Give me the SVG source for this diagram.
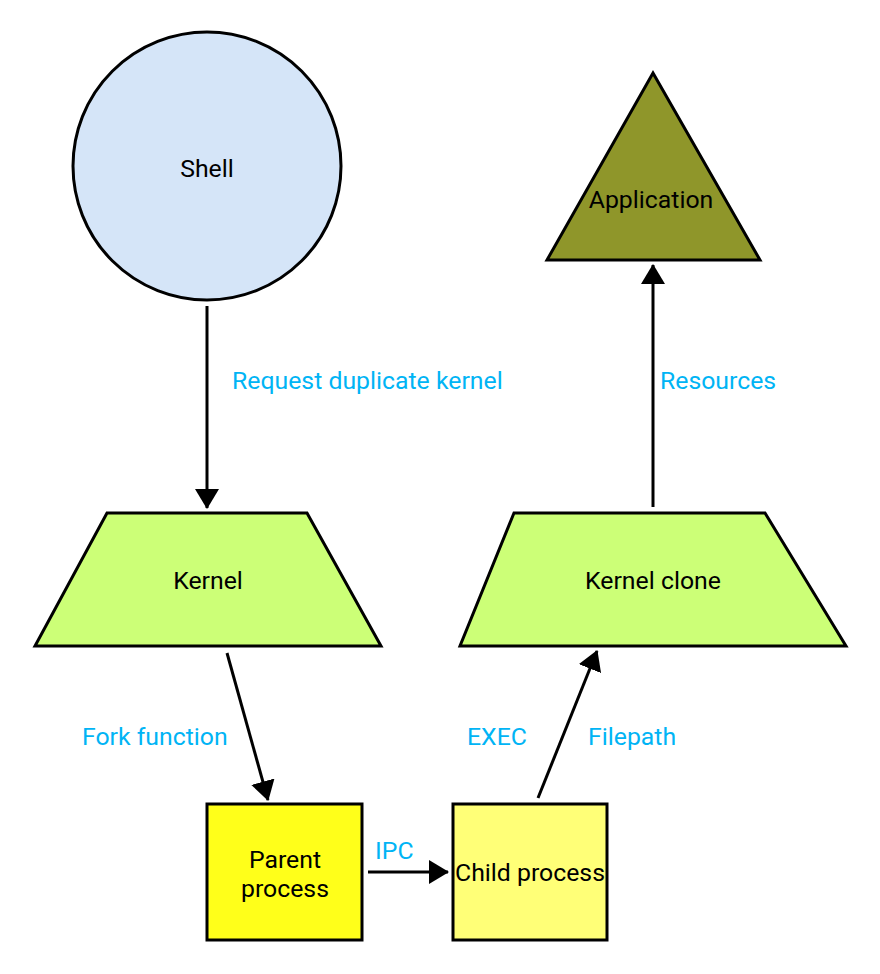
<svg xmlns="http://www.w3.org/2000/svg" width="880" height="974" viewBox="0 0 880 974">
<defs>
<style>
.shape{stroke:#000;stroke-width:3;stroke-linejoin:miter}
.t{font-family:Roboto,"Liberation Sans",sans-serif;font-size:24.8px;fill:#000;text-anchor:middle}
.lbl{font-family:Roboto,"Liberation Sans",sans-serif;font-size:24.8px;fill:#00b4f5}
.edge{stroke:#000;stroke-width:3;fill:none}
</style>
<marker id="arr" viewBox="0 0 20 24" refX="19" refY="12" markerWidth="20" markerHeight="24" markerUnits="userSpaceOnUse" orient="auto">
<path d="M0,0 L20,12 L0,24 z" fill="#000"/>
</marker>
</defs>
<rect width="880" height="974" fill="#fff"/>
<g id="shell">
<circle class="shape" cx="207" cy="166" r="134" fill="#d5e5f8"/>
<text class="t" x="207" y="177">Shell</text>
</g>
<g id="application">
<polygon class="shape" points="653,73 760,260 547,260" fill="#8f962a"/>
<text class="t" x="651" y="208">Application</text>
</g>
<g id="kernel">
<polygon class="shape" points="107,513 307,513 381,646 35,646" fill="#ccff77"/>
<text class="t" x="208" y="589">Kernel</text>
</g>
<g id="kernel-clone">
<polygon class="shape" points="514,513 765,513 846,646 460,646" fill="#ccff77"/>
<text class="t" x="653" y="589">Kernel clone</text>
</g>
<g id="parent-process">
<rect class="shape" x="207" y="804" width="155" height="136" fill="#ffff1a"/>
<text class="t" x="285" y="868">Parent</text>
<text class="t" x="285" y="897">process</text>
</g>
<g id="child-process">
<rect class="shape" x="453" y="804" width="154" height="136" fill="#ffff77"/>
<text class="t" x="530" y="881">Child process</text>
</g>
<g id="connectors">
<line class="edge" x1="207" y1="306" x2="207" y2="508" marker-end="url(#arr)"/>
<line class="edge" x1="653" y1="507" x2="653" y2="265" marker-end="url(#arr)"/>
<line class="edge" x1="227" y1="653" x2="268" y2="800" marker-end="url(#arr)"/>
<line class="edge" x1="368" y1="872" x2="448" y2="872" marker-end="url(#arr)"/>
<line class="edge" x1="538" y1="798" x2="597" y2="651" marker-end="url(#arr)"/>
<text class="lbl" x="232" y="389">Request duplicate kernel</text>
<text class="lbl" x="660" y="389">Resources</text>
<text class="lbl" x="82" y="745">Fork function</text>
<text class="lbl" x="375" y="859">IPC</text>
<text class="lbl" x="467" y="745">EXEC</text>
<text class="lbl" x="588" y="745">Filepath</text>
</g>
</svg>
